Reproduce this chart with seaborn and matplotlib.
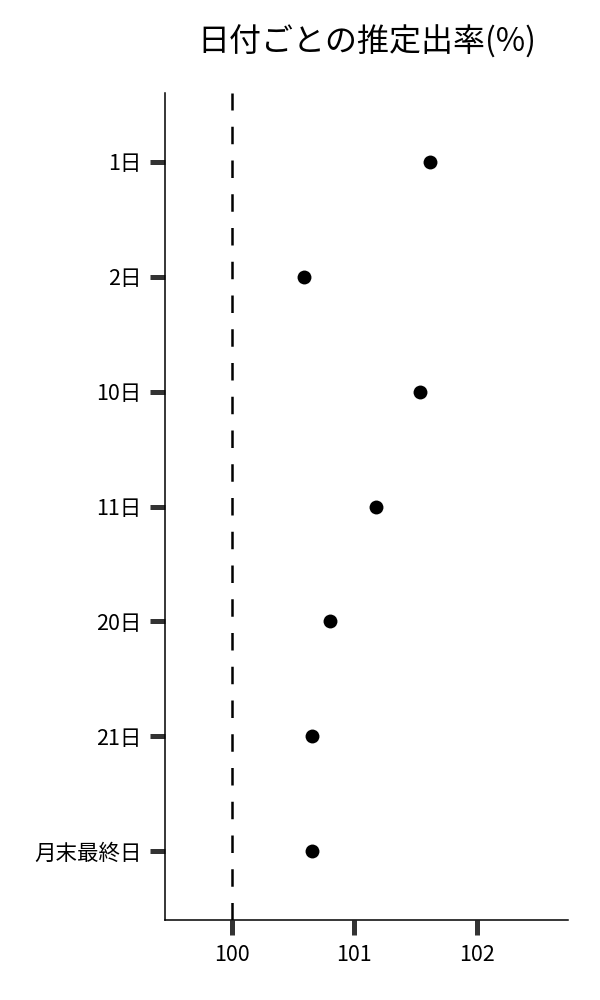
import seaborn as sns
import matplotlib.pyplot as plt
import pandas as pd

days = ['1日', '2日', '10日', '11日', '20日', '21日', '月末最終日']
rates = [101.62, 100.59, 101.54, 101.18, 100.80, 100.65, 100.65]
xticks = [100, 101, 102]


def main():
    sns.set_theme(style='white')
    plt.rcParams['font.family'] = ['Noto Sans CJK JP', 'DejaVu Sans']

    df = pd.DataFrame({'day': days, 'rate': rates})

    fig = plt.figure(figsize=(6, 10), dpi=100)
    ax = fig.add_axes([0.275, 0.08, 0.672, 0.827])

    sns.stripplot(data=df, x='rate', y='day', order=days, jitter=False,
                  color='black', size=10, linewidth=0, ax=ax)
    ax.axvline(100, color='black', lw=1.8, dashes=(7, 6.5))

    ax.set_xlim(99.45, 102.75)
    ax.set_ylim(6.6, -0.6)
    ax.set_xticks(xticks)
    ax.set_xlabel('')
    ax.set_ylabel('')
    ax.set_title('日付ごとの推定出率(%)', fontsize=23, pad=30, color='black')

    sns.despine(ax=ax)
    for s in ['left', 'bottom']:
        ax.spines[s].set_color('black')
        ax.spines[s].set_linewidth(1.1)
    ax.tick_params(axis='both', length=11, width=3.6, color='#333333',
                   labelsize=15.5, labelcolor='black', pad=6,
                   direction='out', bottom=True, left=True)

    fig.savefig('out.png', dpi=100)


if __name__ == "__main__":
    main()
